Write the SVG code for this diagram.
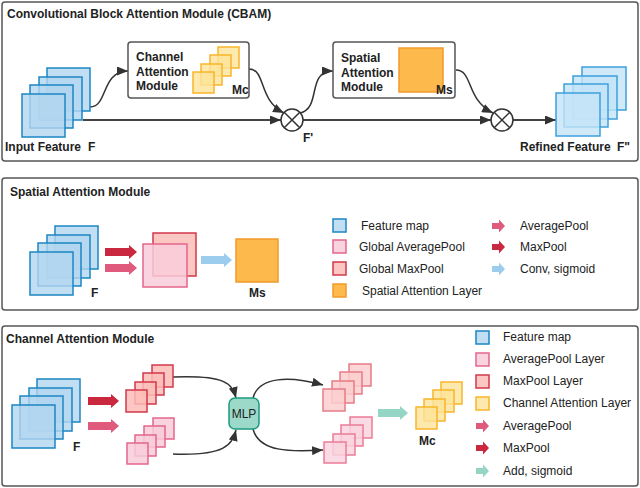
<svg xmlns="http://www.w3.org/2000/svg" xmlns:xlink="http://www.w3.org/1999/xlink" width="640" height="488" viewBox="0 0 640 488">
<style>
.panel{fill:#fff;stroke:#555;stroke-width:1.5}
.fm{fill:#b3d6f0;fill-opacity:.8;stroke:#1c86c4;stroke-width:1.5}
.fmr{fill:#c4e3f7;fill-opacity:.8;stroke:#3ba0dc;stroke-width:1.5}
.ca{fill:#fde49a;fill-opacity:.8;stroke:#f7b52a;stroke-width:1.5}
.sa{fill:#fdb94c;stroke:#f29b2b;stroke-width:1.5}
.mx{fill:#fbbdb8;fill-opacity:.85;stroke:#d2394b;stroke-width:1.5}
.av{fill:#f8cddb;fill-opacity:.85;stroke:#e3668a;stroke-width:1.5}
.mx2{fill:#fbcfcf;fill-opacity:.85;stroke:#e77b86;stroke-width:1.5}
.av2{fill:#f9d3df;fill-opacity:.85;stroke:#ea7c98;stroke-width:1.5}
.box{fill:#fff;stroke:#555;stroke-width:1.5}
.mlp{fill:#9dd9c8;stroke:#1a9b82;stroke-width:1.5}
.conn{fill:none;stroke:#333;stroke-width:1.5}
.main{fill:none;stroke:#444;stroke-width:2}
.op{fill:#fff;stroke:#333;stroke-width:1.5}
.t{font-family:"Liberation Sans",Arial,sans-serif;font-size:12px;fill:#222}
.b{font-weight:bold}
.amx{fill:#c9283e}
.aav{fill:#e05a7e}
.acv{fill:#9ccdee}
.aad{fill:#95d5c5}
</style>
<defs>
<marker id="ah" markerUnits="userSpaceOnUse" markerWidth="11" markerHeight="9" refX="11" refY="4.5" orient="auto">
<path d="M0,0 L11,4.5 L0,9 Z" fill="#333"/>
</marker>
<path id="la" d="M0,-3 L7,-3 L7,-6.5 L13,0 L7,6.5 L7,3 L0,3 Z"/>
</defs>

<!-- Panels -->
<rect class="panel" x="2" y="2" width="636" height="159" rx="3"/>
<rect class="panel" x="2" y="178" width="636" height="132" rx="3"/>
<rect class="panel" x="2" y="326" width="636" height="160" rx="3"/>

<text class="t b" x="7" y="18">Convolutional Block Attention Module (CBAM)</text>
<text class="t b" x="10" y="196">Spatial Attention Module</text>
<text class="t b" x="6" y="343">Channel Attention Module</text>

<!-- Connectors -->
<g id="connectors">
<path class="main" d="M83,120 L281,120" marker-end="url(#ah)"/>
<path class="main" d="M303,120 L491,120" marker-end="url(#ah)"/>
<path class="main" d="M513,120 L556,120" marker-end="url(#ah)"/>
<path class="conn" d="M90,107 C108,107 101,71 128,71" marker-end="url(#ah)"/>
<path class="conn" d="M249,69 C266,69 258,100 284,113" marker-end="url(#ah)"/>
<path class="conn" d="M300,113 C322,108 306,71 333,71" marker-end="url(#ah)"/>
<path class="conn" d="M456,70 C473,70 466,100 493,113" marker-end="url(#ah)"/>
<path class="conn" d="M173,377 C225,375 232,383 236,398" marker-end="url(#ah)"/>
<path class="conn" d="M173,454 C225,456 232,445 236,430" marker-end="url(#ah)"/>
<path class="conn" d="M253,398 C259,376 290,376 323,385" marker-end="url(#ah)"/>
<path class="conn" d="M253,429 C259,452 290,452 323,450" marker-end="url(#ah)"/>
</g>

<!-- CBAM panel -->
<g id="input-feature">
<rect class="fm" x="47" y="68" width="43" height="43"/>
<rect class="fm" x="39" y="77" width="43" height="43"/>
<rect class="fm" x="30" y="85" width="43" height="43"/>
<rect class="fm" x="22" y="94" width="43" height="43"/>
<text class="t b" x="5" y="151">Input Feature</text>
<text class="t b" x="88" y="151">F</text>
</g>

<g id="cam-block">
<rect class="box" x="128" y="42" width="121" height="56" rx="3"/>
<rect class="ca" x="218" y="47" width="21" height="21"/>
<rect class="ca" x="210" y="55" width="21" height="21"/>
<rect class="ca" x="201" y="64" width="21" height="21"/>
<rect class="ca" x="193" y="72" width="21" height="21"/>
<text class="t b" x="136" y="61">Channel</text>
<text class="t b" x="136" y="76">Attention</text>
<text class="t b" x="136" y="90">Module</text>
<text class="t b" x="232" y="94">Mc</text>
</g>

<g id="mult1">
<circle class="op" cx="292" cy="120" r="11"/>
<path class="conn" d="M284.2,112.2 L299.8,127.8 M299.8,112.2 L284.2,127.8"/>
<text class="t b" x="303" y="142">F'</text>
</g>

<g id="sam-block">
<rect class="box" x="333" y="42" width="122" height="56" rx="3"/>
<rect class="sa" x="399" y="48" width="44" height="44"/>
<text class="t b" x="341" y="62">Spatial</text>
<text class="t b" x="341" y="77">Attention</text>
<text class="t b" x="341" y="91">Module</text>
<text class="t b" x="436" y="94">Ms</text>
</g>

<g id="mult2">
<circle class="op" cx="502" cy="120" r="11"/>
<path class="conn" d="M494.2,112.2 L509.8,127.8 M509.8,112.2 L494.2,127.8"/>
</g>

<g id="refined-feature">
<rect class="fmr" x="582" y="67" width="44" height="43"/>
<rect class="fmr" x="573" y="76" width="44" height="43"/>
<rect class="fmr" x="564" y="84" width="44" height="43"/>
<rect class="fmr" x="556" y="93" width="44" height="43"/>
<text class="t b" x="520" y="151">Refined Feature</text>
<text class="t b" x="617" y="151">F"</text>
</g>

<!-- Spatial Attention panel -->
<g id="sam-feature">
<rect class="fm" x="55" y="226" width="43" height="43"/>
<rect class="fm" x="47" y="235" width="43" height="43"/>
<rect class="fm" x="38" y="243" width="43" height="43"/>
<rect class="fm" x="30" y="252" width="43" height="43"/>
<text class="t b" x="91" y="297">F</text>
</g>
<g id="sam-arrows">
<path class="amx" d="M105,248 L129,248 L129,245 L137,252 L129,259 L129,256 L105,256 Z"/>
<path class="aav" d="M105,264 L129,264 L129,261 L137,268 L129,275 L129,272 L105,272 Z"/>
<path class="acv" d="M201,256 L224,256 L224,253 L232,260 L224,267 L224,264 L201,264 Z"/>
</g>
<g id="sam-pools">
<rect class="mx" x="153" y="233" width="43" height="43"/>
<rect class="av" x="143" y="244" width="44" height="43"/>
</g>
<g id="sam-ms">
<rect class="sa" x="236" y="239" width="42" height="43"/>
<text class="t b" x="249" y="297">Ms</text>
</g>
<g id="sam-legend">
<rect class="fm" x="333" y="219" width="13" height="13"/>
<text class="t" x="361" y="230">Feature map</text>
<rect class="av" x="333" y="240" width="13" height="13"/>
<text class="t" x="359" y="251">Global AveragePool</text>
<rect class="mx" x="333" y="262" width="13" height="13"/>
<text class="t" x="359" y="273">Global MaxPool</text>
<rect class="sa" x="333" y="284" width="13" height="13"/>
<text class="t" x="362" y="295">Spatial Attention Layer</text>
<use xlink:href="#la" href="#la" class="aav" x="492" y="226"/>
<text class="t" x="520" y="230">AveragePool</text>
<use xlink:href="#la" href="#la" class="amx" x="492" y="247"/>
<text class="t" x="520" y="251">MaxPool</text>
<use xlink:href="#la" href="#la" class="acv" x="492" y="269"/>
<text class="t" x="520" y="273">Conv, sigmoid</text>
</g>

<!-- Channel Attention panel -->
<g id="cam-feature">
<rect class="fm" x="37" y="379" width="43" height="43"/>
<rect class="fm" x="29" y="388" width="43" height="43"/>
<rect class="fm" x="20" y="396" width="43" height="43"/>
<rect class="fm" x="12" y="405" width="43" height="43"/>
<text class="t b" x="73" y="451">F</text>
</g>
<g id="cam-arrows">
<path class="amx" d="M88,397 L111,397 L111,394 L119,401 L111,408 L111,405 L88,405 Z"/>
<path class="aav" d="M88,422 L111,422 L111,419 L119,426 L111,433 L111,430 L88,430 Z"/>
<path class="aad" d="M378,409 L400,409 L400,406 L408,413 L400,420 L400,417 L378,417 Z"/>
</g>
<g id="cam-maxpool">
<rect class="mx" x="152" y="365" width="21" height="22"/>
<rect class="mx" x="143" y="373" width="21" height="22"/>
<rect class="mx" x="135" y="382" width="21" height="22"/>
<rect class="mx" x="126" y="390" width="21" height="22"/>
</g>
<g id="cam-avgpool">
<rect class="av" x="153" y="418" width="21" height="21"/>
<rect class="av" x="144" y="426" width="21" height="21"/>
<rect class="av" x="135" y="435" width="21" height="21"/>
<rect class="av" x="127" y="443" width="21" height="21"/>
</g>
<g id="mlp">
<rect class="mlp" x="229" y="398" width="30" height="31" rx="6"/>
<text class="t" x="244" y="418" text-anchor="middle">MLP</text>
</g>
<g id="mlp-out-max">
<rect class="mx2" x="349" y="364" width="22" height="22"/>
<rect class="mx2" x="340" y="372" width="22" height="22"/>
<rect class="mx2" x="332" y="381" width="22" height="22"/>
<rect class="mx2" x="323" y="389" width="22" height="22"/>
</g>
<g id="mlp-out-avg">
<rect class="av2" x="350" y="417" width="22" height="21"/>
<rect class="av2" x="341" y="425" width="22" height="21"/>
<rect class="av2" x="333" y="434" width="22" height="21"/>
<rect class="av2" x="324" y="442" width="22" height="21"/>
</g>
<g id="cam-mc">
<rect class="ca" x="441" y="382" width="21" height="22"/>
<rect class="ca" x="433" y="390" width="21" height="22"/>
<rect class="ca" x="424" y="399" width="21" height="22"/>
<rect class="ca" x="416" y="407" width="21" height="22"/>
<text class="t b" x="419" y="445">Mc</text>
</g>
<g id="cam-legend">
<rect class="fm" x="476" y="331" width="13" height="13"/>
<text class="t" x="503" y="341">Feature map</text>
<rect class="av" x="476" y="353" width="13" height="13"/>
<text class="t" x="503" y="363">AveragePool Layer</text>
<rect class="mx" x="476" y="375" width="13" height="13"/>
<text class="t" x="503" y="385">MaxPool Layer</text>
<rect class="ca" x="476" y="397" width="13" height="13"/>
<text class="t" x="503" y="407">Channel Attention Layer</text>
<use xlink:href="#la" href="#la" class="aav" x="476" y="426"/>
<text class="t" x="503" y="430">AveragePool</text>
<use xlink:href="#la" href="#la" class="amx" x="476" y="448"/>
<text class="t" x="503" y="452">MaxPool</text>
<use xlink:href="#la" href="#la" class="aad" x="476" y="471"/>
<text class="t" x="503" y="475">Add, sigmoid</text>
</g>
</svg>
